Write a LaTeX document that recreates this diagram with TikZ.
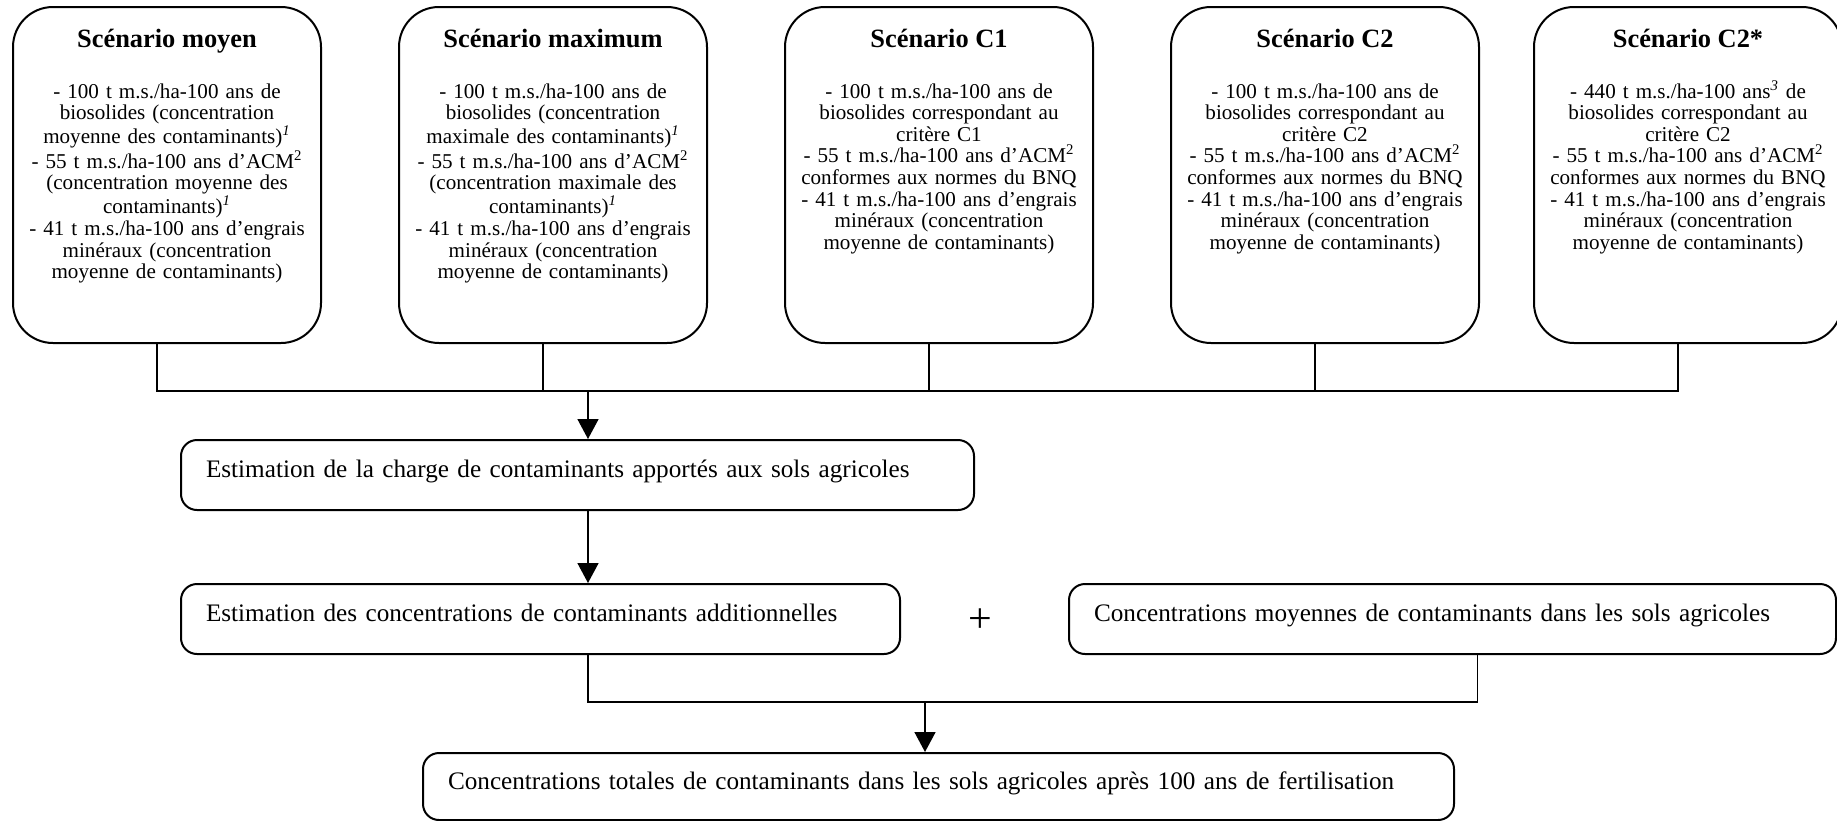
\documentclass[tikz,border=0pt]{standalone}
\usepackage{fontspec}
\setmainfont{Liberation Serif}
\usepackage{tikz}
\usetikzlibrary{positioning,calc,arrows.meta}

\begin{document}
\begin{tikzpicture}[x=0.5pt,y=-0.5pt,
  scbox/.style={draw,line width=1pt,rounded corners=20pt,
    minimum width=154pt,minimum height=168pt,inner sep=0pt},
  sctitle/.style={anchor=base,inner sep=0pt,
    font=\fontsize{13.2}{15}\selectfont\bfseries},
  sctext/.style={anchor=base,inner sep=0pt,text width=150pt,align=center,
    font=\fontsize{10.55}{10.8}\selectfont},
  stepbox/.style={draw,line width=1pt,rounded corners=8pt,anchor=north west,
    inner xsep=12.5pt,inner ysep=0pt,align=left,minimum height=35pt,
    text height=9.5pt,text depth=7pt,font=\fontsize{12.6}{15}\selectfont},
  link/.style={line width=0.8pt},
  arr/.style={link,-{Triangle[length=10pt,width=10.5pt]}}]

  \useasboundingbox (0,0) rectangle (1837,820);

  % scenarios
  \node[scbox] (s1) at (167,175) {};
  \node[scbox,right=38pt of s1] (s2) {};
  \node[scbox,right=38pt of s2] (s3) {};
  \node[scbox,right=38pt of s3] (s4) {};
  \node[scbox,right=26.5pt of s4] (s5) {};

  \node[sctitle] (t1) at ([yshift=-20.5pt]s1.north) {Scénario moyen};
  \node[sctitle] (t2) at ([yshift=-20.5pt]s2.north) {Scénario maximum};
  \node[sctitle] (t3) at ([yshift=-20.5pt]s3.north) {Scénario C1};
  \node[sctitle] (t4) at ([yshift=-20.5pt]s4.north) {Scénario C2};
  \node[sctitle] (t5) at ([yshift=-20.5pt]s5.north) {Scénario C2*};

  \node[sctext] (b1) at ([yshift=-46pt]s1.north) {- 100 t m.s./ha-100 ans de\\
    biosolides (concentration\\ moyenne des contaminants)\textsuperscript{\textit{1}}\\
    - 55 t m.s./ha-100 ans d’ACM\textsuperscript{2}\\ (concentration moyenne des\\
    contaminants)\textsuperscript{\textit{1}}\\ - 41 t m.s./ha-100 ans d’engrais\\
    minéraux (concentration\\ moyenne de contaminants)};
  \node[sctext] (b2) at ([yshift=-46pt]s2.north) {- 100 t m.s./ha-100 ans de\\
    biosolides (concentration\\ maximale des contaminants)\textsuperscript{\textit{1}}\\
    - 55 t m.s./ha-100 ans d’ACM\textsuperscript{2}\\ (concentration maximale des\\
    contaminants)\textsuperscript{\textit{1}}\\ - 41 t m.s./ha-100 ans d’engrais\\
    minéraux (concentration\\ moyenne de contaminants)};
  \node[sctext] (b3) at ([yshift=-46pt]s3.north) {- 100 t m.s./ha-100 ans de\\
    biosolides correspondant au\\ critère C1\\
    - 55 t m.s./ha-100 ans d’ACM\textsuperscript{2}\\ conformes aux normes du BNQ\\
    - 41 t m.s./ha-100 ans d’engrais\\
    minéraux (concentration\\ moyenne de contaminants)};
  \node[sctext] (b4) at ([yshift=-46pt]s4.north) {- 100 t m.s./ha-100 ans de\\
    biosolides correspondant au\\ critère C2\\
    - 55 t m.s./ha-100 ans d’ACM\textsuperscript{2}\\ conformes aux normes du BNQ\\
    - 41 t m.s./ha-100 ans d’engrais\\
    minéraux (concentration\\ moyenne de contaminants)};
  \node[sctext] (b5) at ([yshift=-46pt]s5.north) {- 440 t m.s./ha-100 ans\textsuperscript{\textit{3}} de\\
    biosolides correspondant au\\ critère C2\\
    - 55 t m.s./ha-100 ans d’ACM\textsuperscript{2}\\ conformes aux normes du BNQ\\
    - 41 t m.s./ha-100 ans d’engrais\\
    minéraux (concentration\\ moyenne de contaminants)};

  % steps
  \node[stepbox,text width=371.5pt] (charge) at (180,439)
    {Estimation de la charge de contaminants apportés aux sols agricoles};
  \node[stepbox,text width=334.5pt] (add) at (180,583)
    {Estimation des concentrations de contaminants additionnelles};
  \node[stepbox,text width=358.5pt] (moy) at (1068,583)
    {Concentrations moyennes de contaminants dans les sols agricoles};
  \node[inner sep=0pt,font=\fontsize{21}{21}\selectfont] (plus) at (980,621) {+};
  \node[stepbox,text width=490.5pt,minimum height=33.5pt] (total) at (422,752)
    {Concentrations totales de contaminants dans les sols agricoles après 100 ans de fertilisation};

  \coordinate (bar) at (0,391);
  \coordinate (spine) at (588,0);
  \coordinate (merge) at (925,702);

  % connectors
  \draw[link] ([xshift=-5pt]s1.south) -- ([xshift=-5pt]s1.south |- bar)
    -- ([xshift=-5pt]s5.south |- bar) -- ([xshift=-5pt]s5.south);
  \draw[link] ([xshift=-5pt]s2.south) -- ([xshift=-5pt]s2.south |- bar);
  \draw[link] ([xshift=-5pt]s3.south) -- ([xshift=-5pt]s3.south |- bar);
  \draw[link] ([xshift=-5pt]s4.south) -- ([xshift=-5pt]s4.south |- bar);
  \draw[arr] (spine |- bar) -- (spine |- charge.north);
  \draw[arr] (spine |- charge.south) -- (spine |- add.north);
  \draw[link] (spine |- add.south) -- (spine |- merge)
    -- ([xshift=12.5pt]moy.south |- merge) -- ([xshift=12.5pt]moy.south);
  \draw[arr] (merge) -- (merge |- total.north);
\end{tikzpicture}
\end{document}
